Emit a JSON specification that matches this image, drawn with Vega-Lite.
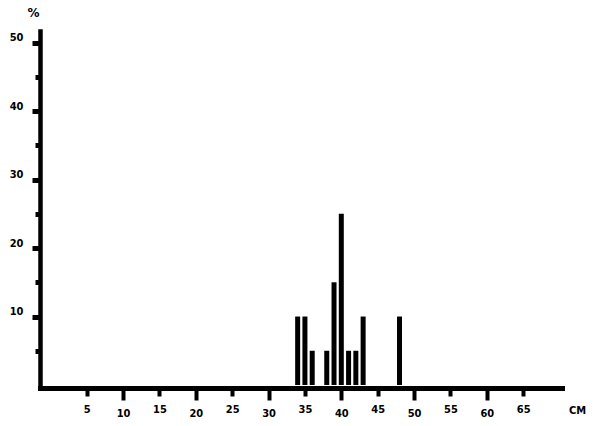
{
  "$schema": "https://vega.github.io/schema/vega-lite/v6.json",
  "width": 522,
  "height": 354,
  "autosize": "none",
  "padding": {"left": 40, "top": 31, "right": 37, "bottom": 41},
  "background": "white",
  "config": {"view": {"stroke": null}},
  "data": {"values": [
    {"cm": 34, "pct": 10},
    {"cm": 35, "pct": 10},
    {"cm": 36, "pct": 5},
    {"cm": 38, "pct": 5},
    {"cm": 39, "pct": 15},
    {"cm": 40, "pct": 25},
    {"cm": 41, "pct": 5},
    {"cm": 42, "pct": 5},
    {"cm": 43, "pct": 10},
    {"cm": 48, "pct": 10}
  ]},
  "mark": {"type": "bar", "size": 5, "color": "black", "orient": "vertical"},
  "encoding": {
    "x": {
      "field": "cm", "type": "quantitative",
      "scale": {"domain": [-0.73, 69.65], "nice": false, "zero": false},
      "axis": {
        "values": [5, 10, 15, 20, 25, 30, 35, 40, 45, 50, 55, 60, 65],
        "grid": false,
        "offset": 3,
        "domainColor": "black", "domainWidth": 5, "domainCap": "square",
        "tickColor": "black", "tickWidth": 4,
        "tickSize": {"condition": {"test": "datum.value % 10 === 0", "value": 12}, "value": 8},
        "labelPadding": 7,
        "labelFont": "DejaVu Sans Condensed", "labelFontWeight": "bold", "labelFontSize": 11, "labelColor": "black",
        "labelFlush": false,
        "title": "CM",
        "titleFont": "DejaVu Sans Condensed", "titleFontWeight": "bold", "titleFontSize": 11, "titleColor": "black",
        "titleX": 537, "titleY": 22, "titleAlign": "center", "titleBaseline": "middle", "titleAnchor": null
      }
    },
    "y": {
      "field": "pct", "type": "quantitative",
      "scale": {"domain": [0, 51.7], "nice": false},
      "axis": {
        "values": [5, 10, 15, 20, 25, 30, 35, 40, 45, 50],
        "grid": false,
        "domainColor": "black", "domainWidth": 4.5, "domainCap": "square",
        "tickColor": "black", "tickWidth": 5,
        "tickSize": {"condition": {"test": "datum.value % 10 === 0", "value": 8}, "value": 5},
        "labelExpr": "datum.value % 10 === 0 ? datum.label : ''",
        "labelPadding": 9,
        "labelBaseline": "bottom",
        "labelFont": "DejaVu Sans Condensed", "labelFontWeight": "bold", "labelFontSize": 11, "labelColor": "black",
        "labelFlush": false,
        "title": "%",
        "titleAngle": 0,
        "titleFont": "DejaVu Sans", "titleFontWeight": "bold", "titleFontSize": 12, "titleColor": "black",
        "titleX": -7, "titleY": -19, "titleAlign": "center", "titleBaseline": "middle", "titleAnchor": null
      }
    }
  }
}
